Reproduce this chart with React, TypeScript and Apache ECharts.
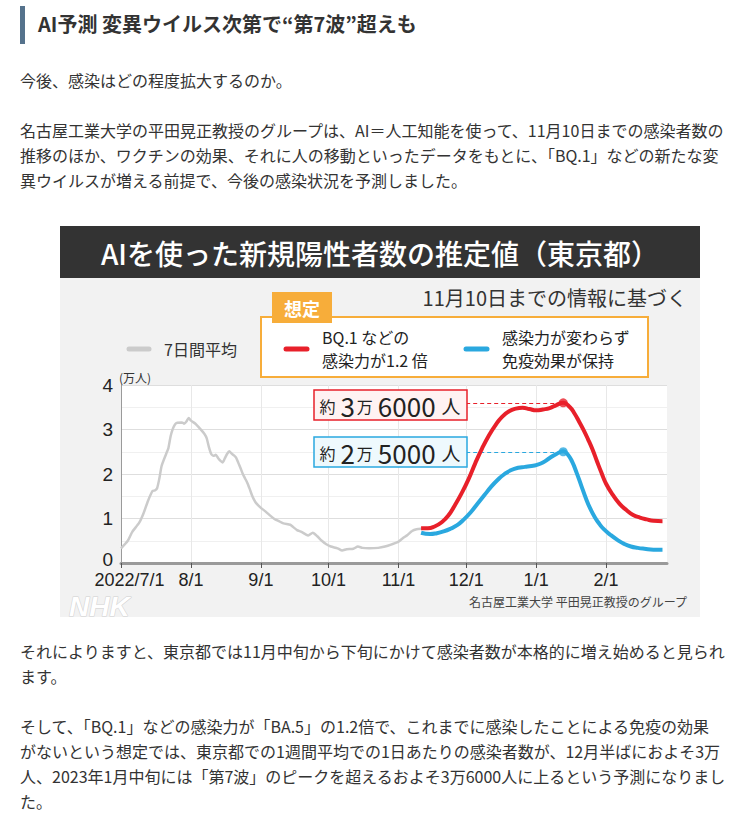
import React, { useEffect, useRef } from 'react';
import * as echarts from 'echarts';

const FONT = '"Noto Sans CJK JP", "Noto Sans", sans-serif';
const NUM_FONT = '"Liberation Sans", Arial, sans-serif';

// x axis: one category per day from 2022-07-01 to 2023-02-28
const dayCount = 243;
const monthStartDays = [0, 31, 62, 92, 123, 153, 184, 215];
const monthTickLabels = ['2022/7/1', '8/1', '9/1', '10/1', '11/1', '12/1', '1/1', '2/1'];

// 7-day average (days since 2022-07-01, 万人)
const grayDays = [0, 3, 5, 8, 10, 12, 14, 15, 16, 17, 18, 20, 21, 22, 23, 24, 25, 27, 28, 29, 30, 31, 33, 35, 37, 38, 39, 40, 41, 42, 43, 44, 45, 46, 47, 48, 49, 50, 51, 52, 53, 54, 55, 56, 57, 58, 59, 60, 62, 64, 66, 68, 70, 72, 75, 76, 78, 80, 82, 83, 85, 87, 89, 91, 93, 96, 98, 100, 103, 105, 107, 110, 114, 117, 120, 123, 125, 127, 129, 131, 133];
const grayValues = [0.33, 0.5, 0.7, 0.9, 1.12, 1.4, 1.62, 1.63, 1.68, 1.9, 2.18, 2.45, 2.58, 2.85, 3.02, 3.12, 3.15, 3.16, 3.13, 3.18, 3.26, 3.2, 3.13, 3.02, 2.9, 2.8, 2.6, 2.45, 2.41, 2.43, 2.36, 2.3, 2.26, 2.35, 2.45, 2.51, 2.46, 2.42, 2.37, 2.25, 2.13, 2.0, 1.9, 1.8, 1.67, 1.53, 1.42, 1.34, 1.24, 1.16, 1.07, 0.99, 0.94, 0.89, 0.86, 0.82, 0.74, 0.7, 0.64, 0.62, 0.68, 0.6, 0.5, 0.42, 0.37, 0.33, 0.28, 0.31, 0.32, 0.37, 0.34, 0.33, 0.34, 0.37, 0.42, 0.48, 0.56, 0.63, 0.72, 0.76, 0.77];

// scenario: BQ.1 1.2x infectivity
const redDays = [133, 136, 139, 142, 145, 148, 151, 154, 157, 160, 163, 166, 169, 172, 175, 178, 181, 184, 187, 190, 193, 196, 199, 201, 203, 205, 207, 209, 211, 213, 215, 218, 221, 224, 227, 230, 233, 236, 240];
const redValues = [0.78, 0.78, 0.82, 0.91, 1.06, 1.3, 1.57, 1.88, 2.24, 2.57, 2.86, 3.1, 3.29, 3.41, 3.47, 3.49, 3.46, 3.43, 3.45, 3.48, 3.55, 3.6, 3.5, 3.36, 3.18, 2.99, 2.78, 2.55, 2.28, 2.02, 1.78, 1.53, 1.33, 1.19, 1.08, 1.02, 0.98, 0.95, 0.94];

// scenario: infectivity unchanged, immunity kept
const blueDays = [133, 137, 140, 143, 146, 149, 152, 155, 158, 161, 164, 167, 170, 173, 176, 179, 182, 184, 187, 190, 193, 196, 198, 200, 202, 204, 206, 208, 210, 212, 214, 217, 220, 223, 226, 229, 232, 236, 240];
const blueValues = [0.68, 0.65, 0.67, 0.71, 0.77, 0.85, 0.98, 1.14, 1.33, 1.52, 1.71, 1.87, 2.0, 2.09, 2.14, 2.16, 2.18, 2.2, 2.26, 2.36, 2.45, 2.51, 2.44, 2.27, 2.02, 1.74, 1.46, 1.22, 1.03, 0.88, 0.76, 0.63, 0.52, 0.43, 0.37, 0.34, 0.32, 0.3, 0.3];

const peakDay = 196;
const redPeak = 3.6;
const bluePeak = 2.5;
const calloutDay = 153;

const pageLines: { y: number; text: string }[] = [
  { y: 80, text: '今後、感染はどの程度拡大するのか。' },
  { y: 130, text: '名古屋工業大学の平田晃正教授のグループは、AI＝人工知能を使って、11月10日までの感染者数の' },
  { y: 155, text: '推移のほか、ワクチンの効果、それに人の移動といったデータをもとに、「BQ.1」などの新たな変' },
  { y: 180, text: '異ウイルスが増える前提で、今後の感染状況を予測しました。' },
  { y: 651, text: 'それによりますと、東京都では11月中旬から下旬にかけて感染者数が本格的に増え始めると見られ' },
  { y: 676, text: 'ます。' },
  { y: 726, text: 'そして、「BQ.1」などの感染力が「BA.5」の1.2倍で、これまでに感染したことによる免疫の効果' },
  { y: 751, text: 'がないという想定では、東京都での1週間平均での1日あたりの感染者数が、12月半ばにおよそ3万' },
  { y: 776, text: '人、2023年1月中旬には「第7波」のピークを超えるおよそ3万6000人に上るという予測になりまし' },
  { y: 801, text: 'た。' },
];

const RED = '#e8202a';
const BLUE = '#2aa8df';
const GRAY = '#cbcbcb';
const ORANGE = '#f7ad3a';

function Chart() {
  const ref = useRef<HTMLDivElement>(null);
  useEffect(() => {
    if (!ref.current) return;
    const chart = echarts.init(ref.current, null, { renderer: 'svg' });
    const categories = Array.from({ length: dayCount }, (_, i) => String(i));
    const isMonthStart = (i: number) => monthStartDays.indexOf(i) >= 0;
    const pair = (d: number[], v: number[]) => d.map((x, i) => [x, v[i]]);

    const txt = (x: number, y: number, text: string, size: number, extra: any = {}, z = 110) => ({
      type: 'text',
      z,
      style: {
        x,
        y,
        text,
        fontSize: size,
        fontFamily: FONT,
        fill: '#222',
        verticalAlign: 'middle',
        ...extra,
      },
    });

    const calloutRich = {
      s: { fontSize: 16, fontFamily: FONT, fill: '#222', padding: [2, 3, 0, 0] },
      b: { fontSize: 26, fontFamily: FONT, fill: '#222', padding: [0, 2, 0, 2] },
      m: { fontSize: 19, fontFamily: FONT, fill: '#222', padding: [1, 0, 0, 4] },
    };

    chart.setOption({
      animation: false,
      backgroundColor: 'transparent',
      grid: {
        left: 61,
        right: 33,
        top: 159,
        bottom: 83,
        show: true,
        backgroundColor: '#ffffff',
        borderWidth: 0,
      },
      xAxis: {
        type: 'category',
        data: categories,
        boundaryGap: false,
        axisLine: { show: true, onZero: false, lineStyle: { color: '#9a9a9a', width: 3 } },
        axisTick: {
          show: true,
          interval: (i: number) => isMonthStart(i),
          length: 5,
          lineStyle: { color: '#555', width: 1 },
        },
        axisLabel: {
          interval: (i: number) => isMonthStart(i),
          margin: 8,
          fontSize: 18,
          lineHeight: 18,
          fontFamily: NUM_FONT,
          color: '#222',
          formatter: (_v: string, idx: number) => {
            const k = monthStartDays.indexOf(idx);
            if (k < 0) return '';
            return k === 0 ? '{first|' + monthTickLabels[k] + '}' : monthTickLabels[k];
          },
          rich: {
            first: { fontSize: 18, lineHeight: 18, fontFamily: NUM_FONT, color: '#222', padding: [0, 0, 0, 17] },
          },
        },
        splitLine: {
          show: true,
          interval: (i: number) => isMonthStart(i),
          lineStyle: { color: '#e8e8e8', width: 1 },
        },
      },
      yAxis: {
        type: 'value',
        min: 0,
        max: 4,
        interval: 1,
        axisLine: { show: true, lineStyle: { color: '#9a9a9a', width: 1 } },
        axisTick: { show: false },
        axisLabel: {
          margin: 8,
          fontSize: 19,
          lineHeight: 19,
          fontFamily: NUM_FONT,
          color: '#222',
          formatter: (v: number) => (v === 0 ? '{z|0}' : String(v)),
          rich: { z: { fontSize: 19, lineHeight: 19, fontFamily: NUM_FONT, color: '#222', padding: [0, 0, 8, 0] } },
        },
        splitLine: { show: true, lineStyle: { color: '#dedede', width: 1 } },
        minorTick: { show: false, splitNumber: 2 },
        minorSplitLine: { show: true, lineStyle: { color: '#f0f0f0', width: 1 } },
      },
      series: [
        {
          type: 'line',
          data: pair(grayDays, grayValues),
          symbol: 'none',
          smooth: 0.2,
          lineStyle: { color: GRAY, width: 2.5 },
          z: 3,
        },
        {
          type: 'line',
          data: pair(blueDays, blueValues),
          symbol: 'none',
          smooth: true,
          lineStyle: { color: BLUE, width: 4 },
          z: 4,
          markLine: {
            silent: true,
            symbol: 'none',
            label: { show: false },
            lineStyle: { color: BLUE, width: 1, type: [4, 3] },
            data: [[{ coord: [calloutDay, bluePeak] }, { coord: [peakDay, bluePeak] }]],
          },
        },
        {
          type: 'line',
          data: pair(redDays, redValues),
          symbol: 'none',
          smooth: true,
          lineStyle: { color: RED, width: 4 },
          z: 5,
          markLine: {
            silent: true,
            symbol: 'none',
            label: { show: false },
            lineStyle: { color: RED, width: 1, type: [4, 3] },
            data: [[{ coord: [calloutDay, redPeak] }, { coord: [peakDay, redPeak] }]],
          },
        },
        {
          type: 'scatter',
          data: [[peakDay, redPeak]],
          symbolSize: 9,
          itemStyle: { color: RED },
          z: 6,
        },
        {
          type: 'scatter',
          data: [[peakDay, bluePeak]],
          symbolSize: 9,
          itemStyle: { color: BLUE },
          z: 6,
        },
      ],
      graphic: [
        { type: 'rect', z: -10, silent: true, shape: { x: 0, y: 52, width: 640, height: 339 }, style: { fill: '#f2f2f2' } },
        { type: 'rect', z: 100, shape: { x: 0, y: 0, width: 640, height: 52 }, style: { fill: '#333333' } },
        txt(320, 27, 'AIを使った新規陽性者数の推定値（東京都）', 28, { fill: '#ffffff', align: 'center', fontWeight: 500 }),
        txt(627, 71, '11月10日までの情報に基づく', 20, { fill: '#333', align: 'right' }),
        {
          type: 'rect',
          z: 100,
          shape: { x: 201, y: 91, width: 387, height: 60 },
          style: { fill: '#ffffff', stroke: ORANGE, lineWidth: 2 },
        },
        { type: 'rect', z: 105, shape: { x: 212, y: 66, width: 60, height: 31 }, style: { fill: ORANGE } },
        txt(242, 82, '想定', 18, { fill: '#ffffff', align: 'center', fontWeight: 'bold' }, 120),
        { type: 'line', z: 110, shape: { x1: 69, y1: 123, x2: 89, y2: 123 }, style: { stroke: GRAY, lineWidth: 5, lineCap: 'round' } },
        txt(104, 123, '7日間平均', 16, { fill: '#333' }),
        { type: 'line', z: 110, shape: { x1: 226, y1: 123, x2: 247, y2: 123 }, style: { stroke: RED, lineWidth: 5, lineCap: 'round' } },
        txt(262, 111, 'BQ.1 などの', 16),
        txt(262, 134, '感染力が1.2 倍', 16),
        { type: 'line', z: 110, shape: { x1: 406, y1: 123, x2: 427, y2: 123 }, style: { stroke: BLUE, lineWidth: 5, lineCap: 'round' } },
        txt(442, 111, '感染力が変わらず', 16),
        txt(442, 134, '免疫効果が保持', 16),
        txt(59, 151, '(万人)', 12, { fill: '#333' }),
        {
          type: 'rect',
          z: 100,
          shape: { x: 254, y: 164, width: 153, height: 30 },
          style: { fill: '#fff2f2', stroke: RED, lineWidth: 1.5 },
        },
        {
          type: 'rect',
          z: 100,
          shape: { x: 254, y: 211, width: 153, height: 30 },
          style: { fill: '#eef9fd', stroke: BLUE, lineWidth: 1.5 },
        },
        {
          type: 'text',
          z: 110,
          style: {
            x: 330,
            y: 179,
            align: 'center',
            verticalAlign: 'middle',
            text: '{s|約}{b|3}{s|万}{b|6000}{m|人}',
            rich: calloutRich,
          },
        },
        {
          type: 'text',
          z: 110,
          style: {
            x: 330,
            y: 226,
            align: 'center',
            verticalAlign: 'middle',
            text: '{s|約}{b|2}{s|万}{b|5000}{m|人}',
            rich: calloutRich,
          },
        },
        txt(9, 366, 'NHK', 28, {
          fill: '#ffffff',
          stroke: '#cfcfcf',
          lineWidth: 1,
          fontStyle: 'italic',
          fontWeight: 'bold',
          verticalAlign: 'top',
          fontFamily: '"Liberation Sans", Arial, sans-serif',
        }),
        txt(627, 375, '名古屋工業大学 平田晃正教授のグループ', 12, { fill: '#444', align: 'right' }),
      ],
    });
    return () => chart.dispose();
  }, []);
  return <div ref={ref} style={{ position: 'absolute', left: 60, top: 226, width: 640, height: 420 }} />;
}

export default function App() {
  return (
    <div
      style={{
        position: 'absolute',
        left: 0,
        top: 0,
        width: 744,
        height: 816,
        background: '#ffffff',
        fontFamily: FONT,
        color: '#333',
        overflow: 'hidden',
      }}
    >
      <div style={{ position: 'absolute', left: 20, top: 6, width: 5, height: 38, background: '#55728c' }} />
      <div
        style={{
          position: 'absolute',
          left: 38,
          top: 10,
          height: 28,
          lineHeight: '28px',
          fontSize: 20,
          fontWeight: 'bold',
          color: '#333',
          whiteSpace: 'nowrap',
        }}
      >
        AI予測 変異ウイルス次第で“第7波”超えも
      </div>
      <Chart />
      {pageLines.map((l, i) => (
        <div
          key={i}
          style={{
            position: 'absolute',
            left: 20,
            top: l.y - 12.5,
            height: 25,
            lineHeight: '25px',
            fontSize: 16,
            whiteSpace: 'nowrap',
            color: '#333',
          }}
        >
          {l.text}
        </div>
      ))}
    </div>
  );
}
